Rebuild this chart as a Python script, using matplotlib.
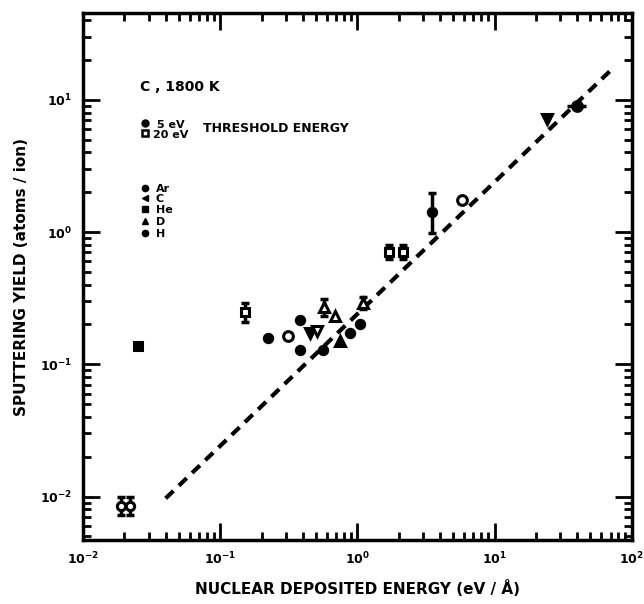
import matplotlib
matplotlib.use("Agg")
import matplotlib.pyplot as plt
from matplotlib.ticker import LogLocator, NullFormatter, FixedLocator, FixedFormatter

# ---------------- data ----------------
# Ar
ar_x = [0.31, 5.8, 40.0]
ar_y = [0.165, 1.75, 9.0]
ar_filled = [False, False, True]
# C
c_x = [0.45, 0.51, 24.0]
c_y = [0.172, 0.18, 7.1]
c_filled = [True, False, True]
# He
he_x = [0.025, 0.152, 1.71, 2.14]
he_y = [0.137, 0.25, 0.71, 0.71]
he_filled = [True, False, False, False]
he_err = [0.0, 0.04, 0.09, 0.09]
# D
d_x = [0.575, 0.69, 0.75, 1.1]
d_y = [0.27, 0.23, 0.15, 0.29]
d_filled = [False, False, True, False]
d_err = [0.04, 0.0, 0.0, 0.03]
# H
h_x = [0.019, 0.022, 0.224, 0.38, 0.38, 0.56, 0.89, 1.05, 3.52]
h_y = [0.0085, 0.0085, 0.157, 0.215, 0.128, 0.128, 0.172, 0.2, 1.42]
h_filled = [False, False, True, True, True, True, True, True, True]
h_err_lo = [0.0013, 0.0013, 0, 0, 0, 0, 0, 0, 0.44]
h_err_hi = [0.0015, 0.0015, 0, 0, 0, 0, 0, 0, 0.55]

# dashed guide line
fit_x = [0.04, 75.0]
fit_y = [0.0097, 17.8]

x_ticks = [1e-2, 1e-1, 1e0, 1e1, 1e2]
x_labels = [r"$\mathbf{10^{-2}}$", r"$\mathbf{10^{-1}}$", r"$\mathbf{10^{0}}$",
            r"$\mathbf{10^{1}}$", r"$\mathbf{10^{2}}$"]
y_ticks = [1e-2, 1e-1, 1e0, 1e1]
y_labels = [r"$\mathbf{10^{-2}}$", r"$\mathbf{10^{-1}}$", r"$\mathbf{10^{0}}$",
            r"$\mathbf{10^{1}}$"]

# ---------------- figure ----------------
plt.rcParams['font.family'] = ['DejaVu Sans']
plt.rcParams['font.weight'] = 'bold'
fig = plt.figure(figsize=(6.44, 6.04), dpi=100)
ax = fig.add_axes([0.129, 0.106, 0.852, 0.872])
ax.set_xscale('log')
ax.set_yscale('log')
ax.set_xlim(1e-2, 1e2)
ax.set_ylim(0.0047, 45)

for s in ax.spines.values():
    s.set_linewidth(2.5)

ax.plot(fit_x, fit_y, color='black', lw=3, linestyle=(0, (2.6, 1.8)))


def draw(xs, ys, filled, marker, ms, err_lo=None, err_hi=None):
    for i, (x, y, f) in enumerate(zip(xs, ys, filled)):
        if err_lo is not None and (err_lo[i] > 0 or err_hi[i] > 0):
            ax.errorbar([x], [y], yerr=[[err_lo[i]], [err_hi[i]]], fmt='none',
                        ecolor='black', elinewidth=2.5, capsize=3, capthick=2.5)
        ax.plot([x], [y], marker=marker, ms=ms, mew=2.2, ls='none',
                mfc='black' if f else 'white', mec='black')


draw(ar_x, ar_y, ar_filled, 'o', 7)
ax.errorbar([ar_x[2]], [ar_y[2]], xerr=[[6]], fmt='none', ecolor='black', elinewidth=2.5)
draw(c_x, c_y, c_filled, 'v', 7.5)
draw(he_x, he_y, he_filled, 's', 6, he_err, he_err)
draw(d_x, d_y, d_filled, '^', 6.5, d_err, d_err)
draw(h_x, h_y, h_filled, 'o', 6, h_err_lo, h_err_hi)

# ticks
ax.xaxis.set_major_locator(FixedLocator(x_ticks))
ax.xaxis.set_major_formatter(FixedFormatter(x_labels))
ax.yaxis.set_major_locator(FixedLocator(y_ticks))
ax.yaxis.set_major_formatter(FixedFormatter(y_labels))
ax.xaxis.set_minor_locator(LogLocator(base=10, subs=range(2, 10), numticks=20))
ax.yaxis.set_minor_locator(LogLocator(base=10, subs=range(2, 10), numticks=20))
ax.xaxis.set_minor_formatter(NullFormatter())
ax.yaxis.set_minor_formatter(NullFormatter())
ax.tick_params(which='both', direction='in', top=True, right=True, width=2)
ax.tick_params(which='major', length=12, labelsize=9, pad=8)
ax.tick_params(which='minor', length=6)

ax.set_xlabel("NUCLEAR DEPOSITED ENERGY (eV / Å)", fontsize=11, fontweight='bold', labelpad=9)
ax.set_ylabel("SPUTTERING YIELD (atoms / ion)", fontsize=11, fontweight='bold', labelpad=8)

# annotations
ax.text(0.103, 0.852, "C , 1800 K", transform=ax.transAxes, fontsize=10, fontweight='bold')
ax.plot([0.113], [0.791], transform=ax.transAxes, marker='o', ms=5, mfc='black', mec='black')
ax.text(0.135, 0.783, "5 eV", transform=ax.transAxes, fontsize=8, fontweight='bold')
ax.plot([0.113], [0.772], transform=ax.transAxes, marker='s', ms=5, mfc='white', mec='black', mew=1.8)
ax.text(0.128, 0.764, "20 eV", transform=ax.transAxes, fontsize=8, fontweight='bold')
ax.text(0.218, 0.774, "THRESHOLD ENERGY", transform=ax.transAxes, fontsize=9, fontweight='bold')

legend_items = [("o", "Ar"), ("<", "C"), ("s", "He"), ("^", "D"), ("o", "H")]
ly = [0.668, 0.649, 0.628, 0.606, 0.583]
for (m, lab), yy in zip(legend_items, ly):
    ax.plot([0.113], [yy], transform=ax.transAxes, marker=m, ms=4.5, mfc='black', mec='black')
    ax.text(0.132, yy - 0.008, lab, transform=ax.transAxes, fontsize=8, fontweight='bold')

fig.savefig("out.png", dpi=100)
